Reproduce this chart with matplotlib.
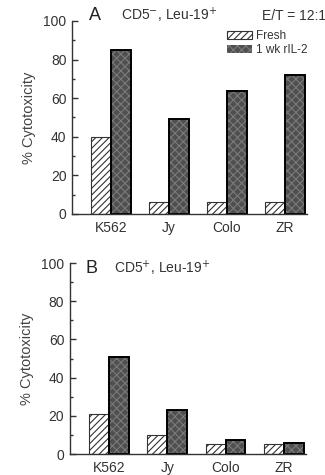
import matplotlib
matplotlib.use("Agg")
import matplotlib.pyplot as plt
from matplotlib.patches import Patch
import numpy as np

plt.rcParams['font.family'] = ['Liberation Sans', 'DejaVu Sans']
plt.rcParams['hatch.linewidth'] = 0.8

categories = ["K562", "Jy", "Colo", "ZR"]
fresh_A = [40, 6, 6, 6]
ril2_A = [85, 49, 63.5, 72]
fresh_B = [21, 10, 5, 5]
ril2_B = [51, 23, 7.5, 6]
yticks = [0, 20, 40, 60, 80, 100]
series_labels = ["Fresh", "1 wk rIL-2"]

fig = plt.figure(figsize=(3.25, 4.75), dpi=100)
axA = fig.add_axes([0.2215, 0.5495, 0.723, 0.4063])
axB = fig.add_axes([0.2150, 0.0442, 0.7265, 0.4021])

x = np.arange(len(categories))
w = 0.34
dark = '#4f4f4f'
txt = '#333333'

def panel(ax, fresh, ril2):
    ax.bar(x - w/2, fresh, w, facecolor='white', edgecolor='#333333',
           hatch='/////', linewidth=0.8)
    ax.bar(x + w/2, ril2, w, facecolor=dark, edgecolor='#7a7a7a',
           hatch='xxxx', linewidth=0)
    ax.bar(x + w/2, ril2, w, facecolor='none', edgecolor='black', linewidth=1.4)
    ax.set_ylim(0, 100)
    ax.set_xlim(-0.67, 3.38)
    ax.spines['top'].set_visible(False)
    ax.spines['right'].set_visible(False)
    for s in ('left', 'bottom'):
        ax.spines[s].set_linewidth(1.0)
        ax.spines[s].set_color('#333333')
    ax.set_yticks(yticks)
    ax.set_yticks(np.arange(10, 100, 20), minor=True)
    ax.tick_params(axis='y', which='major', direction='in', length=4, width=1,
                   labelsize=10, colors='#333333', labelcolor=txt, pad=4)
    ax.tick_params(axis='y', which='minor', direction='in', length=2.5, width=1,
                   colors='#333333')
    ax.set_xticks(x)
    ax.set_xticklabels(categories)
    ax.tick_params(axis='x', length=0, labelsize=10, labelcolor=txt, pad=5)
    ax.set_ylabel('% Cytotoxicity', fontsize=10.5, color='#444444', labelpad=5)

panel(axA, fresh_A, ril2_A)
panel(axB, fresh_B, ril2_B)

# Panel labels
fig.text(0.275, 0.967, 'A', fontsize=13, color='#222222', va='center', ha='left')
fig.text(0.372, 0.967, r'CD5$^{-}$, Leu-19$^{+}$', fontsize=10, color=txt,
         va='center', ha='left')
fig.text(1.003, 0.967, 'E/T = 12:1', fontsize=10, color=txt,
         va='center', ha='right')
fig.text(0.262, 0.435, 'B', fontsize=13, color='#222222', va='center', ha='left')
fig.text(0.352, 0.435, r'CD5$^{+}$, Leu-19$^{+}$', fontsize=10, color=txt,
         va='center', ha='left')

handles = [Patch(facecolor='white', edgecolor='#333333', hatch='/////', linewidth=0.8),
           Patch(facecolor=dark, edgecolor='#7a7a7a', hatch='xxxx', linewidth=0)]
leg = fig.legend(handles, series_labels, loc='upper left',
                 bbox_to_anchor=(0.7, 0.937), frameon=False, fontsize=8.5,
                 handlelength=2.1, handleheight=0.6, handletextpad=0.35,
                 labelspacing=0.2, borderaxespad=0, borderpad=0)
for t in leg.get_texts():
    t.set_color(txt)

fig.savefig('out.png', dpi=100)
